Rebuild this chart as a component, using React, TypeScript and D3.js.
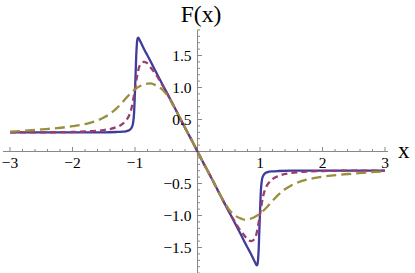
import React from "react";
import * as d3 from "d3";

const W = 415;
const H = 273;

const blueX = [-3, -2.5, -2, -1.5, -1.3, -1.2, -1.15, -1.1, -1.07, -1.05, -1.03, -1.015, -1.0, -0.99, -0.98, -0.97, -0.96, -0.95, -0.94, -0.92, -0.9, -0.85, -0.8, -0.7, -0.6, -0.5, -0.4, -0.3, -0.2, -0.1, 0,
  0.1, 0.2, 0.3, 0.4, 0.5, 0.6, 0.7, 0.8, 0.85, 0.9, 0.92, 0.94, 0.95, 0.96, 0.97, 0.98, 0.99, 1.0, 1.015, 1.03, 1.05, 1.07, 1.1, 1.15, 1.2, 1.3, 1.5, 2, 2.5, 3];
const blueY = [0.30, 0.30, 0.30, 0.30, 0.305, 0.31, 0.315, 0.33, 0.35, 0.38, 0.45, 0.6, 0.95, 1.22, 1.5, 1.68, 1.76, 1.78, 1.77, 1.73, 1.69, 1.59, 1.50, 1.31, 1.12, 0.935, 0.75, 0.56, 0.37, 0.19, 0,
  -0.19, -0.37, -0.56, -0.75, -0.935, -1.12, -1.31, -1.50, -1.59, -1.69, -1.73, -1.77, -1.78, -1.76, -1.68, -1.5, -1.22, -0.95, -0.6, -0.45, -0.38, -0.35, -0.33, -0.315, -0.31, -0.305, -0.30, -0.30, -0.30, -0.30];

const purpleX = [-3, -2.5, -2, -1.75, -1.5, -1.3, -1.2, -1.15, -1.1, -1.05, -1.0, -0.97, -0.94, -0.9, -0.86, -0.82, -0.78, -0.74, -0.7, -0.65, -0.6, -0.55, -0.5, -0.4, -0.3, -0.2, -0.1, 0,
  0.1, 0.2, 0.3, 0.4, 0.5, 0.55, 0.6, 0.65, 0.7, 0.74, 0.78, 0.82, 0.86, 0.9, 0.94, 0.97, 1.0, 1.05, 1.1, 1.15, 1.2, 1.3, 1.5, 1.75, 2, 2.5, 3];
const purpleY = [0.30, 0.30, 0.305, 0.315, 0.335, 0.38, 0.43, 0.48, 0.55, 0.70, 0.98, 1.16, 1.30, 1.38, 1.40, 1.39, 1.35, 1.30, 1.25, 1.18, 1.10, 1.02, 0.93, 0.75, 0.56, 0.37, 0.19, 0,
  -0.19, -0.37, -0.56, -0.75, -0.93, -1.02, -1.10, -1.18, -1.25, -1.30, -1.35, -1.39, -1.40, -1.38, -1.30, -1.16, -0.98, -0.70, -0.55, -0.48, -0.43, -0.38, -0.335, -0.315, -0.305, -0.30, -0.30];

const oliveX = [-3, -2.75, -2.5, -2.25, -2, -1.75, -1.5, -1.4, -1.3, -1.2, -1.1, -1.0, -0.9, -0.8, -0.75, -0.7, -0.6, -0.5, -0.4, -0.3, -0.2, -0.1, 0,
  0.1, 0.2, 0.3, 0.4, 0.5, 0.6, 0.7, 0.75, 0.8, 0.9, 1.0, 1.1, 1.2, 1.3, 1.4, 1.5, 1.75, 2, 2.25, 2.5, 2.75, 3];
const oliveY = [0.31, 0.325, 0.345, 0.365, 0.395, 0.44, 0.53, 0.59, 0.67, 0.77, 0.88, 0.97, 1.03, 1.06, 1.065, 1.05, 1.0, 0.9, 0.74, 0.56, 0.37, 0.19, 0,
  -0.19, -0.37, -0.56, -0.74, -0.9, -1.0, -1.05, -1.065, -1.06, -1.03, -0.97, -0.88, -0.77, -0.67, -0.59, -0.53, -0.44, -0.395, -0.365, -0.345, -0.325, -0.31];

const xMajor = [-3, -2, -1, 1, 2, 3];
const yMajor = [-1.5, -1.0, -0.5, 0.5, 1.0, 1.5];

const x = d3.scaleLinear().domain([-3, 3]).range([10, 385]);
const y = d3.scaleLinear().domain([-1.9, 1.9]).range([273.1, 29.9]);

const series = [
  { xs: blueX, ys: blueY, color: "#3F3D99", dash: "" },
  { xs: purpleX, ys: purpleY, color: "#993D71", dash: "6,4" },
  { xs: oliveX, ys: oliveY, color: "#998F3D", dash: "10,5" },
];

export default function App() {
  const line = d3
    .line<[number, number]>()
    .x((d) => x(d[0]))
    .y((d) => y(d[1]))
    .curve(d3.curveMonotoneX);

  const x0 = x(0);
  const y0 = y(0);
  const xMinor = d3.range(-15, 16).map((i) => i / 5).filter((v) => Math.abs(v - Math.round(v)) > 1e-6);
  const yMinor = d3.range(-19, 20).map((i) => i / 10).filter((v) => Math.abs(v * 2 - Math.round(v * 2)) > 1e-6);
  const axisColor = "#888";
  const fontStyle = { fontFamily: '"Liberation Serif", "DejaVu Serif", serif' };

  return (
    <svg width={W} height={H} style={{ position: "absolute", left: 0, top: 0, display: "block" }}>
      <rect width={W} height={H} fill="#fff" />
      <line x1={3} x2={388} y1={y0} y2={y0} stroke={axisColor} strokeWidth={1} />
      <line x1={x0} x2={x0} y1={y(1.9)} y2={H} stroke={axisColor} strokeWidth={1} />
      {[...xMajor, 0].map((v) => (
        <line key={"xM" + v} x1={x(v)} x2={x(v)} y1={y0} y2={y0 - 4.5} stroke={axisColor} />
      ))}
      {xMinor.map((v) => (
        <line key={"xm" + v} x1={x(v)} x2={x(v)} y1={y0} y2={y0 - 2.5} stroke={axisColor} />
      ))}
      {yMajor.map((v) => (
        <line key={"yM" + v} x1={x0} x2={x0 + 4.5} y1={y(v)} y2={y(v)} stroke={axisColor} />
      ))}
      {yMinor.map((v) => (
        <line key={"ym" + v} x1={x0} x2={x0 + 2.5} y1={y(v)} y2={y(v)} stroke={axisColor} />
      ))}
      {series.map((s, i) => (
        <path
          key={i}
          d={line(s.xs.map((xv, j) => [xv, s.ys[j]] as [number, number])) || ""}
          fill="none"
          stroke={s.color}
          strokeWidth={2.3}
          strokeDasharray={s.dash || undefined}
        />
      ))}
      {xMajor.map((v) => (
        <text key={"xl" + v} x={x(v)} y={y0 + 16} textAnchor="middle" style={fontStyle} fontSize={15.5} fill="#000">
          {v < 0 ? "\u2212" + Math.abs(v) : String(v)}
        </text>
      ))}
      {yMajor.map((v) => (
        <text key={"yl" + v} x={x0 - 6} y={y(v) + 5} textAnchor="end" style={fontStyle} fontSize={15.5} fill="#000">
          {(v < 0 ? "\u2212" : "") + Math.abs(v).toFixed(1)}
        </text>
      ))}
      <text x={201} y={22} textAnchor="middle" style={fontStyle} fontSize={23.5} fill="#000">F(x)</text>
      <text x={398} y={158} style={fontStyle} fontSize={23} fill="#000">x</text>
    </svg>
  );
}
